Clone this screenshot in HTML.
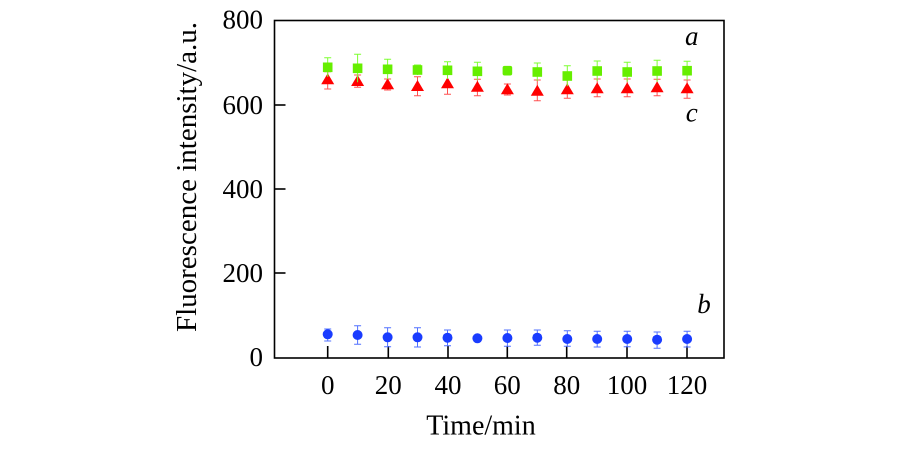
<!DOCTYPE html>
<html><head><meta charset="utf-8"><style>
html,body{margin:0;padding:0;background:#fff;}
svg{display:block;}
text{font-family:"Liberation Serif","Times New Roman",serif;fill:#000;}
</style></head><body>
<svg width="900" height="450" viewBox="0 0 900 450" xmlns="http://www.w3.org/2000/svg">
<rect x="0" y="0" width="900" height="450" fill="#fff"/>
<!-- frame -->
<rect x="274.5" y="20.5" width="449.5" height="337.5" fill="none" stroke="#000" stroke-width="1.6"/>
<!-- y ticks -->
<g stroke="#000" stroke-width="1.6">
<line x1="274.5" y1="273" x2="285.5" y2="273"/>
<line x1="274.5" y1="189" x2="285.5" y2="189"/>
<line x1="274.5" y1="105" x2="285.5" y2="105"/>
<!-- x ticks -->
<line x1="327.7" y1="358" x2="327.7" y2="346"/>
<line x1="388.3" y1="358" x2="388.3" y2="346"/>
<line x1="448" y1="358" x2="448" y2="346"/>
<line x1="507.3" y1="358" x2="507.3" y2="346"/>
<line x1="566.7" y1="358" x2="566.7" y2="346"/>
<line x1="627" y1="358" x2="627" y2="346"/>
<line x1="687" y1="358" x2="687" y2="346"/>
</g>
<!-- y tick labels -->
<g font-size="27" text-anchor="end">
<text x="263" y="28.5">800</text>
<text x="263" y="114">600</text>
<text x="263" y="198">400</text>
<text x="263" y="282">200</text>
<text x="263" y="366">0</text>
</g>
<!-- x tick labels -->
<g font-size="27" text-anchor="middle">
<text x="327.7" y="394">0</text>
<text x="388.3" y="394">20</text>
<text x="448" y="394">40</text>
<text x="507.3" y="394">60</text>
<text x="566.7" y="394">80</text>
<text x="627" y="394">100</text>
<text x="687" y="394">120</text>
</g>
<text x="481" y="434.5" font-size="28" text-anchor="middle">Time/min</text>
<text transform="translate(196,177) rotate(-90)" font-size="29" text-anchor="middle">Fluorescence intensity/a.u.</text>
<g font-size="27" font-style="italic" text-anchor="middle">
<text x="691.7" y="45">a</text>
<text x="691.7" y="121.5">c</text>
<text x="704" y="313">b</text>
</g>

<!-- red triangles (c) -->
<g id="red">
<g stroke="#ff5050" stroke-width="1">
<path d="M327.7,71.7V89M324.2,71.7h7M324.2,89h7"/>
<path d="M357.6,75V87.3M354.1,75h7M354.1,87.3h7"/>
<path d="M387.6,79V90M384.1,79h7M384.1,90h7"/>
<path d="M417.5,76.7V95.7M414,76.7h7M414,95.7h7"/>
<path d="M447.5,74V94.3M444,74h7M444,94.3h7"/>
<path d="M477.4,79.3V95.7M473.9,79.3h7M473.9,95.7h7"/>
<path d="M507.4,84V95M503.9,84h7M503.9,95h7"/>
<path d="M537.3,80V100.7M533.8,80h7M533.8,100.7h7"/>
<path d="M567.3,80V98.3M563.8,80h7M563.8,98.3h7"/>
<path d="M597.2,79V96.7M593.7,79h7M593.7,96.7h7"/>
<path d="M627.2,79V96.7M623.7,79h7M623.7,96.7h7"/>
<path d="M657.1,79.3V95.7M653.6,79.3h7M653.6,95.7h7"/>
<path d="M687.1,80V98.3M683.6,80h7M683.6,98.3h7"/>
</g>
<g fill="#ff0000">
<path d="M327.7,73.3l6.5,11h-13z"/>
<path d="M357.6,75l6.5,11h-13z"/>
<path d="M387.6,78.3l6.5,11h-13z"/>
<path d="M417.5,80l6.5,11h-13z"/>
<path d="M447.5,77.3l6.5,11h-13z"/>
<path d="M477.4,80.7l6.5,11h-13z"/>
<path d="M507.4,83.3l6.5,11h-13z"/>
<path d="M537.3,84.7l6.5,11h-13z"/>
<path d="M567.3,83.3l6.5,11h-13z"/>
<path d="M597.2,82.3l6.5,11h-13z"/>
<path d="M627.2,82.3l6.5,11h-13z"/>
<path d="M657.1,81.3l6.5,11h-13z"/>
<path d="M687.1,82.3l6.5,11h-13z"/>
</g>
</g>

<!-- green squares (a) -->
<g stroke="#7dff30" stroke-width="1">
<path d="M327.7,57.7V76.9M324.2,57.7h7"/>
<path d="M357.6,54.3V82.3M354.1,54.3h7"/>
<path d="M387.6,59.3V79.3M384.1,59.3h7"/>
<path d="M417.5,65V75M414,65h7"/>
<path d="M447.5,61.7V78.9M444,61.7h7"/>
<path d="M477.4,62.3V80.3M473.9,62.3h7"/>
<path d="M537.3,63V81M533.8,63h7"/>
<path d="M567.3,65.7V86.3M563.8,65.7h7"/>
<path d="M597.2,61V81M593.7,61h7"/>
<path d="M627.2,62.3V81.7M623.7,62.3h7"/>
<path d="M657.1,60.3V81.7M653.6,60.3h7"/>
<path d="M687.1,61.3V80.1M683.6,61.3h7"/>
</g>
<g fill="#66ee00">
<rect x="322.9" y="62.5" width="9.6" height="9.6"/>
<rect x="352.8" y="63.5" width="9.6" height="9.6"/>
<rect x="382.8" y="64.5" width="9.6" height="9.6"/>
<rect x="412.7" y="65.2" width="9.6" height="9.6"/>
<rect x="442.7" y="65.5" width="9.6" height="9.6"/>
<rect x="472.6" y="66.5" width="9.6" height="9.6"/>
<rect x="502.6" y="65.9" width="9.6" height="9.6" rx="2"/>
<rect x="532.5" y="67.2" width="9.6" height="9.6"/>
<rect x="562.5" y="71.2" width="9.6" height="9.6"/>
<rect x="592.4" y="66.2" width="9.6" height="9.6"/>
<rect x="622.4" y="67.2" width="9.6" height="9.6"/>
<rect x="652.3" y="66.2" width="9.6" height="9.6"/>
<rect x="682.3" y="65.9" width="9.6" height="9.6"/>
</g>

<!-- blue circles (b) -->
<g stroke="#5070ff" stroke-width="1">
<path d="M327.7,329V341M324.2,329h7M324.2,341h7"/>
<path d="M357.6,325.7V344.3M354.1,325.7h7M354.1,344.3h7"/>
<path d="M387.6,327.7V346.7M384.1,327.7h7M384.1,346.7h7"/>
<path d="M417.5,327.7V347M414,327.7h7M414,347h7"/>
<path d="M447.5,330V345.7M444,330h7M444,345.7h7"/>
<path d="M477.4,334V342.5"/>
<path d="M507.4,330V346.3M503.9,330h7M503.9,346.3h7"/>
<path d="M537.3,330V345.3M533.8,330h7M533.8,345.3h7"/>
<path d="M567.3,330.7V346.3M563.8,330.7h7M563.8,346.3h7"/>
<path d="M597.2,331.3V347M593.7,331.3h7M593.7,347h7"/>
<path d="M627.2,331.3V346.7M623.7,331.3h7M623.7,346.7h7"/>
<path d="M657.1,332V348.3M653.6,332h7M653.6,348.3h7"/>
<path d="M687.1,331.3V347M683.6,331.3h7M683.6,347h7"/>
</g>
<g fill="#1a3cff">
<circle cx="327.7" cy="334.3" r="5"/>
<circle cx="357.6" cy="335" r="5"/>
<circle cx="387.6" cy="337.3" r="5"/>
<circle cx="417.5" cy="337.3" r="5"/>
<circle cx="447.5" cy="337.7" r="5"/>
<circle cx="477.4" cy="338.3" r="5"/>
<circle cx="507.4" cy="338" r="5"/>
<circle cx="537.3" cy="337.7" r="5"/>
<circle cx="567.3" cy="339" r="5"/>
<circle cx="597.2" cy="339" r="5"/>
<circle cx="627.2" cy="339" r="5"/>
<circle cx="657.1" cy="339.7" r="5"/>
<circle cx="687.1" cy="339" r="5"/>
</g>
</svg>
</body></html>
